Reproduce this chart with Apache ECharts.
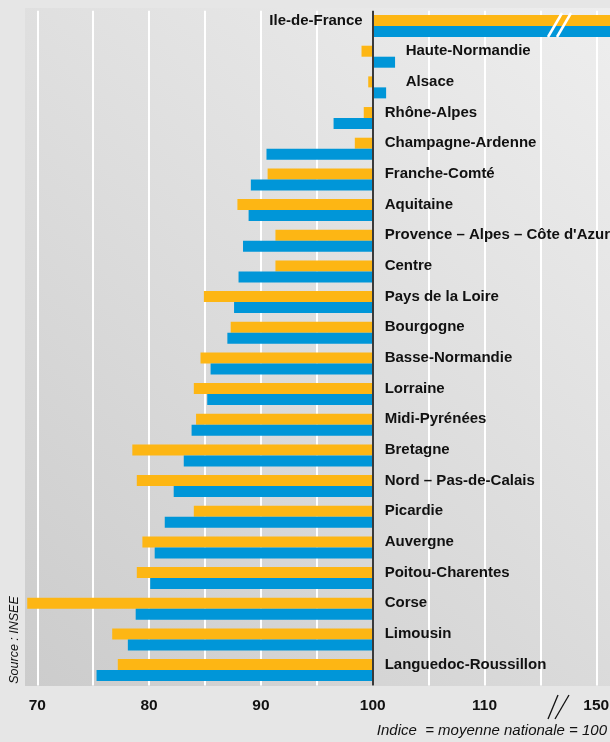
<!DOCTYPE html>
<html>
<head>
<meta charset="utf-8">
<script src="https://cdn.jsdelivr.net/npm/echarts@6.0.0/dist/echarts.min.js"></script>
<style>
  html, body { margin: 0; padding: 0; background: #e6e6e6; }
  #chart { width: 610px; height: 742px; }
</style>
</head>
<body>
<div id="chart"></div>
<script>
// regions, top to bottom
const regions = [
  "Ile-de-France", "Haute-Normandie", "Alsace", "Rhône-Alpes", "Champagne-Ardenne",
  "Franche-Comté", "Aquitaine", "Provence – Alpes – Côte d'Azur", "Centre",
  "Pays de la Loire", "Bourgogne", "Basse-Normandie", "Lorraine", "Midi-Pyrénées",
  "Bretagne", "Nord – Pas-de-Calais", "Picardie", "Auvergne", "Poitou-Charentes",
  "Corse", "Limousin", "Languedoc-Roussillon"
];
// index, national average = 100
const orangeValues = [170, 99.0, 99.6, 99.2, 98.4, 90.6, 87.9, 91.3, 91.3, 84.9, 87.3,
  84.6, 84.0, 84.2, 78.5, 78.9, 84.0, 79.4, 78.9, 69.1, 76.7, 77.2];
const blueValues = [165, 102.0, 101.2, 96.5, 90.5, 89.1, 88.9, 88.4, 88.0, 87.6, 87.0,
  85.5, 85.2, 83.8, 83.1, 82.2, 81.4, 80.5, 80.1, 78.8, 78.1, 75.3];
// tick value on the axis -> printed label (150 sits after the break)
const tickLabels = { 70: "70", 80: "80", 90: "90", 100: "100", 110: "110", 120: "150" };

const BASE = 100;
const BREAK_FROM = 115, BREAK_REAL = 150, BREAK_SHOWN = 120;
const FONT = "'Liberation Sans', Arial, sans-serif";

// broken scale: above 115, 150 is drawn where 120 would be
function toAxis(v) {
  if (v <= BREAK_FROM) return v;
  return BREAK_FROM + (v - BREAK_FROM) * (BREAK_SHOWN - BREAK_FROM) / (BREAK_REAL - BREAK_FROM);
}
const startOf = vals => vals.map(v => Math.min(toAxis(v), BASE));
const lengthOf = vals => vals.map(v => Math.abs(toAxis(v) - BASE));

const chart = echarts.init(document.getElementById("chart"));

const orangeData = lengthOf(orangeValues).map((len, i) => {
  let label;
  if (orangeValues[i] > BASE) {
    label = { position: "left", distance: 10 };
  } else if (blueValues[i] > BASE) {
    label = { position: "right", distance: 33 };
  } else {
    label = { position: "right", distance: 12 };
  }
  return { value: len, label };
});

const hidden = { color: "rgba(0,0,0,0)" };

chart.setOption({
  animation: false,
  backgroundColor: "#e6e6e6",
  grid: {
    left: -18.6,
    right: -42.2,
    top: 10.7,
    height: 674.7,
    containLabel: false,
    outerBoundsMode: "none"
  },
  xAxis: {
    type: "value",
    min: 65,
    max: 125,
    interval: 5,
    axisLine: { show: false },
    axisTick: { show: false },
    splitLine: { show: true, lineStyle: { color: "#ffffff", width: 2 } },
    axisLabel: {
      margin: 12,
      color: "#111",
      fontWeight: "bold",
      fontSize: 15.5,
      fontFamily: FONT,
      formatter: v => tickLabels[v] || ""
    }
  },
  yAxis: {
    type: "category",
    data: regions,
    inverse: true,
    axisLine: { show: false },
    axisTick: { show: false },
    axisLabel: { show: false },
    splitLine: { show: false }
  },
  series: [
    {
      type: "bar", stack: "o", data: startOf(orangeValues),
      itemStyle: hidden, barWidth: 11, barGap: "0%", silent: true
    },
    {
      type: "bar", stack: "o", data: orangeData,
      itemStyle: { color: "#fdb614" }, barWidth: 11, barGap: "0%",
      label: {
        show: true,
        formatter: p => p.name,
        color: "#111",
        fontWeight: "bold",
        fontSize: 15,
        fontFamily: FONT
      }
    },
    {
      type: "bar", stack: "b", data: startOf(blueValues),
      itemStyle: hidden, barWidth: 11, barGap: "0%", silent: true
    },
    {
      type: "bar", stack: "b", data: lengthOf(blueValues),
      itemStyle: { color: "#0096d8" }, barWidth: 11, barGap: "0%",
      markLine: {
        silent: true,
        symbol: "none",
        label: { show: false },
        lineStyle: { color: "#3a3a3a", width: 2, type: "solid" },
        data: [{ xAxis: BASE }],
        z: 10
      }
    }
  ],
  graphic: [
    {
      type: "rect", z: -10,
      shape: { x: 25, y: 8, width: 585, height: 678 },
      style: {
        fill: new echarts.graphic.LinearGradient(0, 1, 1, 0, [
          { offset: 0, color: "#cccccc" },
          { offset: 1, color: "#eeeeee" }
        ])
      }
    },
    // break on the Ile-de-France bars
    { type: "line", z: 100, shape: { x1: 548, y1: 37, x2: 562, y2: 13 }, style: { stroke: "#fff", lineWidth: 2.5 } },
    { type: "line", z: 100, shape: { x1: 557, y1: 37, x2: 571, y2: 13 }, style: { stroke: "#fff", lineWidth: 2.5 } },
    // break on the axis
    { type: "line", z: 100, shape: { x1: 548, y1: 719, x2: 558, y2: 695 }, style: { stroke: "#111", lineWidth: 1.3 } },
    { type: "line", z: 100, shape: { x1: 555, y1: 719, x2: 569, y2: 695 }, style: { stroke: "#111", lineWidth: 1.3 } },
    {
      type: "text", z: 100, x: 607, y: 731,
      style: {
        text: "Indice  = moyenne nationale = 100",
        align: "right", verticalAlign: "middle",
        font: "italic 15px " + FONT, fill: "#111"
      }
    },
    {
      type: "text", z: 100, x: 15, y: 640, rotation: Math.PI / 2,
      style: {
        text: "Source : INSEE",
        align: "center", verticalAlign: "middle",
        font: "italic 12.5px " + FONT, fill: "#111"
      }
    }
  ]
});
</script>
</body>
</html>
